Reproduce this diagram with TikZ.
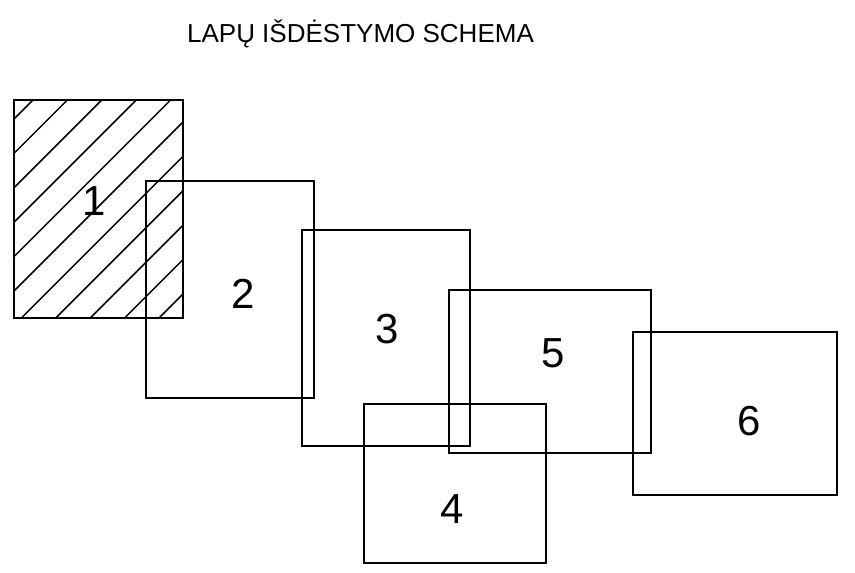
\documentclass[tikz,border=0pt]{standalone}
\usepackage{fontspec}
\setmainfont{Liberation Sans}
\begin{document}
\begin{tikzpicture}[x=1pt,y=-1pt,
  sheet/.style={draw=black,line width=1.8pt},
  hatch/.style={line width=1.5pt},
  num/.style={font=\fontsize{42}{48}\selectfont,anchor=base,inner sep=0pt},
  titletext/.style={font=\fontsize{26}{30}\selectfont,anchor=base,inner sep=0pt}]
\useasboundingbox (0,0) rectangle (855,573);
\node[titletext] (title) at (360.5,42) {LAPŲ IŠDĖSTYMO SCHEMA};
% sheet 1 hatching
\begin{scope}
  \clip (14,100) rectangle (183,318);
  \foreach \k in {0,...,10}{
    \pgfmathsetmacro{\c}{133+34.4*\k}
    \draw[hatch] (\c-400,400) -- (\c,0);
  }
\end{scope}
\draw[sheet] (14,100) rectangle (183,318);
\draw[sheet] (146,181) rectangle (314,398);
\draw[sheet] (302,230) rectangle (470,446);
\draw[sheet] (364,404) rectangle (546,563);
\draw[sheet] (449,290) rectangle (651,453);
\draw[sheet] (633,332) rectangle (837,495);
\node[num] (n1) at (94,215) {1};
\node[num] (n2) at (243.5,308) {2};
\node[num] (n3) at (387,343) {3};
\node[num] (n4) at (452.5,523) {4};
\node[num] (n5) at (553,367) {5};
\node[num] (n6) at (749,435) {6};
\end{tikzpicture}
\end{document}
